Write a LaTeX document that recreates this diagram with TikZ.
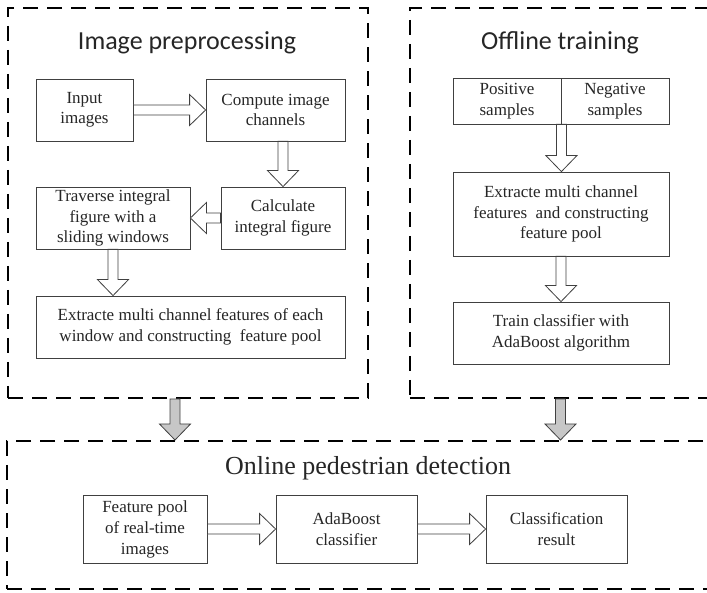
\documentclass[tikz,border=0pt]{standalone}
\usepackage{fontspec}
\setmainfont{Liberation Serif}
\newfontfamily\titlefont{Carlito}
\usetikzlibrary{calc}

% hollow block arrow from #2 to #3, filled with #1
\newcommand{\fatarrow}[3][white]{%
	\coordinate (hb) at ($(#3)!16pt!(#2)$);
	\draw [line width=0.8pt, draw=black!75, fill=#1, line join=miter]
		($(#2)!5pt!90:(#3)$) -- ($(hb)!5pt!90:(#3)$) -- ($(hb)!15.5pt!90:(#3)$) -- (#3)
		-- ($(hb)!15.5pt!-90:(#3)$) -- ($(hb)!5pt!-90:(#3)$) -- ($(#2)!5pt!-90:(#3)$) -- cycle;}

\tikzset{
	panel/.style={draw=black, line width=2pt, dash pattern=on 15pt off 9pt, inner sep=0pt},
	box/.style={draw=black!75, line width=0.8pt, fill=white, align=center, inner sep=0pt,
		text=black!85, font=\fontsize{17}{20.5}\selectfont},
	heading/.style={text=black!85, inner sep=0pt}
}

\begin{document}
\begin{tikzpicture}[x=1pt,y=-1pt]
			\useasboundingbox (0,0) rectangle (707,593);
			\clip (0,0) rectangle (707,593);
			% the three dashed panels
			\node[panel, minimum width=360pt, minimum height=390pt] (prep) at (188,203) {};
			\node[panel, minimum width=315pt, minimum height=390pt] (offl) at (567.5,203) {};
			\node[panel, minimum width=718pt, minimum height=148pt] (onl) at (366,515) {};
			\node[heading, font=\titlefont\fontsize{26}{30}\selectfont] (t1) at (187,43) {Image preprocessing};
			\node[heading, font=\titlefont\fontsize{26}{30}\selectfont] (t2) at (560,43) {Offline training};
			\node[heading, font=\fontsize{26}{30}\selectfont] (t3) at (368,468) {Online pedestrian detection};
			% image preprocessing
			\node[box, minimum width=97pt, minimum height=62pt] (inp) at (84.5,110) {Input\\images};
			\node[box, minimum width=139pt, minimum height=62pt] (comp) at (275.5,110) {Compute image\\channels};
			\node[box, minimum width=124pt, minimum height=62pt] (calc) at (283,218) {Calculate\\integral figure};
			\node[box, minimum width=154pt, minimum height=62pt] (trav) at (113,218) {Traverse integral\\figure with a\\sliding windows};
			\node[box, minimum width=309pt, minimum height=62pt] (ext) at (190.5,327) {Extracte multi channel features of each\\window and constructing\ \ feature pool};
			% offline training
			\node[box, minimum width=108pt, minimum height=46pt] (pos) at (507,101) {Positive\\samples};
			\node[box, minimum width=108pt, minimum height=46pt] (neg) at (615,101) {Negative\\samples};
			\node[box, minimum width=216pt, minimum height=84pt] (ext2) at (561,214) {Extracte multi channel\\features\ \ and constructing\\feature pool};
			\node[box, minimum width=216pt, minimum height=62pt] (train) at (561,333) {Train classifier with\\AdaBoost algorithm};
			% online detection
			\node[box, minimum width=124pt, minimum height=68pt, font=\fontsize{17}{21}\selectfont] (feat) at (145,529) {Feature pool\\of real-time\\images};
			\node[box, minimum width=141pt, minimum height=68pt, font=\fontsize{17}{21}\selectfont] (ada) at (346.5,529) {AdaBoost\\classifier};
			\node[box, minimum width=141pt, minimum height=68pt, font=\fontsize{17}{21}\selectfont] (cls) at (556.5,529) {Classification\\result};
			% arrows
			\fatarrow{inp.east}{comp.west}
			\fatarrow{comp.south -| calc.north}{calc.north}
			\fatarrow{calc.west}{trav.east}
			\fatarrow{trav.south}{trav.south |- ext.north}
			\fatarrow{pos.south east}{pos.south east |- ext2.north}
			\fatarrow{ext2.south}{train.north}
			\fatarrow{feat.east}{ada.west}
			\fatarrow{ada.east}{cls.west}
			\coordinate (g1) at (prep.south -| 175,0);
			\coordinate (g2) at (offl.south -| 560.5,0);
			\fatarrow[black!22]{g1}{g1 |- onl.north}
			\fatarrow[black!22]{g2}{g2 |- onl.north}
		\end{tikzpicture}
\end{document}
